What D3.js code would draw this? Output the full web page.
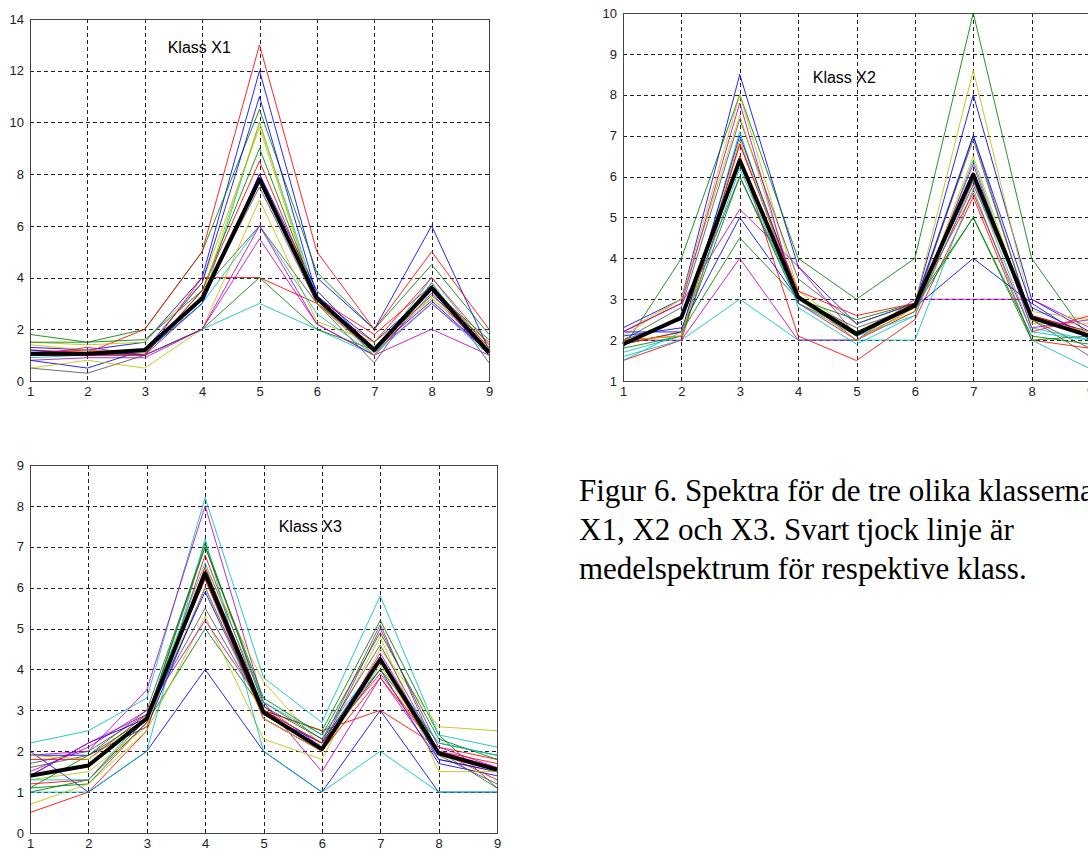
<!DOCTYPE html>
<html>
<head>
<meta charset="utf-8">
<script src="https://cdn.jsdelivr.net/npm/d3@7"></script>
<style>
  body { margin: 0; background: #fff; }
  svg { display: block; }
</style>
</head>
<body>
<div id="chart"></div>
<script>
// x positions (spectral bands)
const bands = [1, 2, 3, 4, 5, 6, 7, 8, 9];

// matlab line colours, cycled over the spectra
const lineColors = ["#0000ff", "#008000", "#ff0000", "#00bfbf", "#bf00bf", "#bfbf00", "#555555"];

// Klass X1
const x1Spectra = [
  [1.3, 1.2, 1.5, 4.0, 12.0, 4.0, 2.0, 6.0, 1.2],
  [1.8, 1.5, 2.0, 5.0, 10.5, 4.2, 2.0, 4.5, 1.8],
  [1.2, 1.1, 2.0, 5.0, 13.0, 5.0, 2.0, 5.0, 2.0],
  [1.0, 1.0, 1.1, 3.0, 10.0, 3.2, 1.0, 4.0, 1.2],
  [0.8, 0.9, 0.9, 2.0, 5.5, 2.2, 1.0, 2.0, 1.0],
  [1.5, 1.4, 1.5, 3.8, 9.8, 3.0, 1.2, 3.2, 1.3],
  [0.5, 0.3, 1.0, 3.5, 6.0, 3.0, 0.7, 3.8, 0.7],
  [0.8, 0.5, 1.2, 3.8, 11.0, 3.3, 1.5, 3.5, 1.0],
  [1.5, 1.5, 1.6, 3.5, 9.0, 3.2, 1.3, 3.3, 1.5],
  [1.1, 1.2, 1.0, 4.0, 4.0, 3.0, 1.5, 4.0, 1.4],
  [0.9, 1.0, 1.0, 2.0, 3.0, 2.0, 1.0, 3.0, 1.0],
  [1.0, 1.0, 1.0, 3.0, 8.0, 3.0, 1.1, 3.0, 1.1],
  [0.5, 0.8, 0.5, 2.0, 7.0, 2.3, 1.5, 3.2, 1.2],
  [1.0, 1.1, 1.2, 3.2, 7.5, 3.0, 1.3, 3.6, 1.0],
  [1.2, 1.0, 1.1, 3.0, 8.0, 3.5, 1.2, 3.1, 1.1],
  [1.0, 1.1, 1.0, 2.0, 4.0, 2.0, 1.2, 3.5, 1.6],
  [1.0, 1.0, 1.0, 3.5, 8.5, 3.2, 1.8, 3.7, 1.3],
  [1.1, 1.1, 1.1, 3.0, 6.0, 2.6, 1.0, 3.8, 1.0],
  [1.0, 1.3, 1.0, 2.0, 6.0, 2.2, 1.0, 3.4, 1.0],
  [1.4, 1.2, 1.1, 3.3, 10.0, 3.0, 1.0, 3.6, 1.2]
];
const x1Mean = [1.05, 1.05, 1.2, 3.2, 7.8, 3.2, 1.2, 3.6, 1.1];

// Klass X2
const x2Spectra = [
  [2.3, 3.0, 8.5, 3.8, 2.4, 2.9, 8.0, 3.0, 2.2],
  [1.8, 4.0, 8.0, 4.0, 3.0, 4.0, 10.0, 4.0, 2.0],
  [1.5, 2.0, 6.5, 2.1, 1.5, 2.5, 5.5, 2.0, 1.8],
  [1.6, 2.0, 3.0, 2.0, 2.0, 2.0, 5.7, 2.0, 1.3],
  [2.0, 2.0, 4.0, 2.0, 2.0, 3.0, 3.0, 3.0, 2.3],
  [2.2, 3.0, 8.0, 3.2, 2.2, 2.9, 8.6, 2.7, 2.5],
  [2.0, 2.8, 7.4, 3.5, 2.4, 2.9, 6.9, 2.5, 1.8],
  [2.1, 2.3, 5.0, 3.0, 2.2, 2.8, 4.0, 2.9, 2.0],
  [1.9, 2.2, 4.5, 3.0, 2.5, 2.9, 5.0, 2.0, 2.1],
  [1.9, 2.2, 6.8, 3.2, 2.6, 2.9, 5.6, 2.2, 2.6],
  [1.7, 2.1, 7.1, 2.8, 1.9, 2.6, 6.4, 2.3, 2.0],
  [2.2, 2.9, 5.2, 3.8, 2.1, 2.9, 5.9, 2.6, 2.2],
  [2.1, 3.0, 7.5, 3.0, 2.1, 2.7, 6.5, 2.4, 2.4],
  [2.0, 2.5, 6.0, 3.0, 2.3, 2.8, 7.0, 2.5, 1.6],
  [2.2, 2.2, 7.0, 3.1, 2.1, 2.9, 7.0, 2.8, 2.1],
  [1.8, 2.1, 6.0, 2.9, 2.2, 2.8, 5.0, 2.1, 1.9],
  [2.0, 2.1, 6.8, 3.1, 2.0, 2.7, 5.8, 2.6, 2.2],
  [1.5, 2.2, 6.2, 2.9, 2.1, 2.6, 5.9, 2.2, 2.0],
  [2.2, 2.9, 7.8, 2.9, 2.0, 2.8, 6.3, 2.3, 2.5],
  [2.0, 2.1, 6.9, 3.0, 2.0, 2.8, 6.1, 2.5, 2.2]
];
const x2Mean = [1.9, 2.55, 6.4, 3.05, 2.15, 2.85, 6.05, 2.55, 2.1];

// Klass X3
const x3Spectra = [
  [2.0, 1.0, 2.0, 4.0, 2.0, 1.0, 3.0, 1.0, 1.0],
  [1.1, 1.2, 2.7, 5.0, 3.0, 2.5, 5.2, 2.4, 1.1],
  [0.5, 1.0, 2.5, 6.8, 3.0, 2.5, 3.0, 2.1, 1.8],
  [2.2, 2.5, 3.3, 8.2, 3.8, 2.7, 5.8, 2.4, 2.1],
  [1.9, 2.0, 3.5, 8.0, 3.2, 1.5, 3.8, 1.8, 1.5],
  [0.7, 1.2, 2.5, 5.3, 2.3, 1.8, 4.5, 2.6, 2.5],
  [1.7, 2.0, 2.9, 5.5, 3.0, 2.2, 5.1, 1.9, 1.2],
  [1.9, 1.9, 2.6, 6.0, 2.9, 2.1, 4.0, 1.7, 1.4],
  [1.0, 1.3, 2.8, 7.1, 3.1, 2.3, 4.0, 2.2, 1.9],
  [1.8, 1.8, 2.9, 6.2, 2.8, 2.0, 3.8, 2.0, 1.3],
  [1.0, 1.0, 2.0, 7.2, 2.0, 1.0, 2.0, 1.0, 1.0],
  [1.5, 2.1, 3.0, 5.2, 3.1, 2.1, 5.0, 2.1, 1.6],
  [1.3, 1.5, 2.6, 6.5, 3.7, 2.1, 4.8, 1.5, 1.5],
  [1.6, 1.9, 3.0, 7.0, 3.2, 2.3, 4.6, 2.0, 1.1],
  [1.4, 2.2, 2.8, 5.9, 2.9, 2.2, 4.3, 1.8, 1.5],
  [1.1, 1.9, 2.8, 7.0, 3.3, 2.4, 4.9, 2.3, 1.8],
  [1.2, 1.3, 2.7, 6.5, 3.0, 2.2, 3.9, 2.0, 1.7],
  [1.3, 1.3, 2.9, 6.6, 3.2, 2.4, 4.2, 2.2, 1.9],
  [1.4, 2.2, 2.9, 6.3, 2.8, 2.0, 4.4, 2.0, 1.6],
  [1.9, 1.8, 2.8, 6.0, 2.8, 2.0, 4.1, 1.9, 1.5]
];
const x3Mean = [1.4, 1.65, 2.8, 6.35, 2.95, 2.05, 4.25, 1.95, 1.55];

const x1Ticks = [0, 2, 4, 6, 8, 10, 12, 14];
const x2Ticks = [1, 2, 3, 4, 5, 6, 7, 8, 9, 10];
const x3Ticks = [0, 1, 2, 3, 4, 5, 6, 7, 8, 9];

const captionLines = [
  "Figur 6. Spektra för de tre olika klasserna",
  "X1, X2 och X3. Svart tjock linje är",
  "medelspektrum för respektive klass."
];

const W = 1088, H = 849;
const svg = d3.select("#chart").append("svg").attr("width", W).attr("height", H);

function drawPanel(p) {
  const x = d3.scaleLinear().domain([1, 9]).range([p.left, p.right]);
  const y = d3.scaleLinear().domain(p.yDomain).range([p.bottom, p.top]);
  const g = svg.append("g");

  // dashed grid
  g.append("g").selectAll("line.v")
    .data(bands.slice(1, -1))
    .join("line")
    .attr("x1", d => Math.round(x(d)) + 0.5).attr("x2", d => Math.round(x(d)) + 0.5)
    .attr("y1", p.top).attr("y2", p.bottom)
    .attr("stroke", "#222").attr("stroke-dasharray", "4,3");
  g.append("g").selectAll("line.h")
    .data(p.ticks.slice(1, -1))
    .join("line")
    .attr("y1", d => Math.round(y(d)) + 0.5).attr("y2", d => Math.round(y(d)) + 0.5)
    .attr("x1", p.left).attr("x2", p.right)
    .attr("stroke", "#222").attr("stroke-dasharray", "4,3");

  // axes (labels only, box drawn separately)
  const ax = g.append("g")
    .attr("transform", `translate(0,${p.bottom})`)
    .call(d3.axisBottom(x).tickValues(bands).tickSize(0).tickPadding(6));
  const ay = g.append("g")
    .attr("transform", `translate(${p.left},0)`)
    .call(d3.axisLeft(y).tickValues(p.ticks).tickSize(0).tickPadding(6));
  [ax, ay].forEach(a => {
    a.select(".domain").remove();
    a.selectAll("text")
      .attr("fill", "#222")
      .style("font-family", "Liberation Sans, Arial, sans-serif")
      .style("font-size", "13px");
  });

  // spectra
  const line = d3.line().x((d, i) => x(bands[i])).y(d => y(d));
  g.append("g").selectAll("path")
    .data(p.spectra)
    .join("path")
    .attr("d", line)
    .attr("fill", "none")
    .attr("stroke", (d, i) => lineColors[i % lineColors.length])
    .attr("stroke-width", 1)
    .attr("opacity", 0.85);

  // mean spectrum
  g.append("path")
    .datum(p.mean)
    .attr("d", line)
    .attr("fill", "none")
    .attr("stroke", "#000")
    .attr("stroke-width", 4)
    .attr("stroke-linejoin", "round");

  // box
  g.append("rect")
    .attr("x", p.left + 0.5).attr("y", p.top + 0.5)
    .attr("width", p.right - p.left).attr("height", p.bottom - p.top)
    .attr("fill", "none").attr("stroke", "#444");

  g.append("text")
    .attr("x", x(p.label[1])).attr("y", y(p.label[2]))
    .text(p.label[0])
    .style("font-family", "Liberation Sans, Arial, sans-serif")
    .style("font-size", "16px");
}

drawPanel({ left: 30, right: 489, top: 19, bottom: 381, yDomain: [0, 14], ticks: x1Ticks,
  spectra: x1Spectra, mean: x1Mean, label: ["Klass X1", 3.4, 12.68] });
drawPanel({ left: 623, right: 1090, top: 13, bottom: 381, yDomain: [1, 10], ticks: x2Ticks,
  spectra: x2Spectra, mean: x2Mean, label: ["Klass X2", 4.25, 8.29] });
drawPanel({ left: 30, right: 497, top: 465, bottom: 833, yDomain: [0, 9], ticks: x3Ticks,
  spectra: x3Spectra, mean: x3Mean, label: ["Klass X3", 5.26, 7.35] });

// figure caption
svg.append("g").selectAll("text")
  .data(captionLines)
  .join("text")
  .attr("x", 579)
  .attr("y", (d, i) => 501 + i * 39)
  .text(d => d)
  .style("font-family", "Liberation Serif, Times New Roman, serif")
  .style("font-size", "31px");
</script>
</body>
</html>
